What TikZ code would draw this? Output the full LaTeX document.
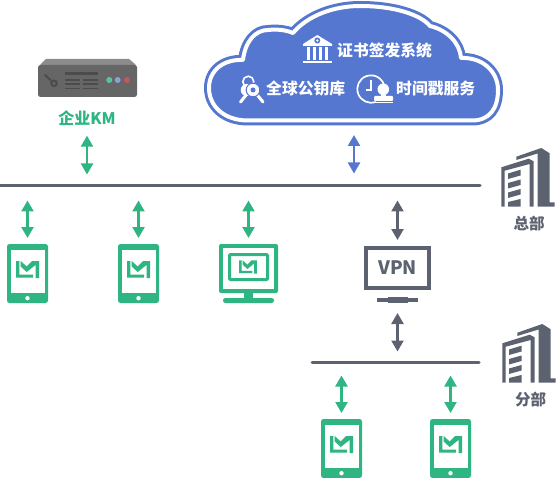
\documentclass[tikz,border=0pt]{standalone}
\usepackage{fontspec}
\newfontfamily\cjk{Noto Sans CJK SC}
\usetikzlibrary{arrows.meta}
\usepackage{xcolor}
\definecolor{colG}{RGB}{47,181,130}
\definecolor{colB}{RGB}{86,119,207}
\definecolor{colD}{RGB}{92,98,112}
\newcommand{\cloudline}{(248,120.5) .. controls (224,120.5) and (209,106) .. (209,88)
  .. controls (209,70) and (224,59) .. (243,60) .. controls (245,42) and (255,30) .. (268,30)
  .. controls (277,29) and (286,30) .. (293,33) .. controls (308,15) and (335,6) .. (360,6)
  .. controls (395,6) and (421,15) .. (430,26) .. controls (447,30) and (460,43) .. (461,58)
  .. controls (483,57) and (498,72) .. (498,90) .. controls (498,108) and (490,120.5) .. (472,120.5) -- cycle}
\tikzset{
  lmlogo/.pic={
    \fill (-11.5,-8.5) -- (-8.2,-8.5) -- (-8.2,5) -- (5.5,5) -- (5.5,8) -- (-11.5,8) -- cycle;
    \fill (-6.8,-8.5) -- (-0.8,-3) -- (4.5,-8.5) -- (11.5,-8.5) -- (11.5,8.5) -- (8,8.5) -- (8,-4.5) -- (-0.8,2.5) -- (-6.8,-3) -- cycle;
  },
  tablet/.pic={
    \fill[colG,rounded corners=2.5pt] (-20.5,-29.5) rectangle (20.5,29.5);
    \fill[white] (-17,-23.5) rectangle (17,19.5);
    \fill[white] (0,24.7) circle (2.2);
    \pic[colG] at (0,-4) {lmlogo};
  },
  hqblock/.pic={
    \fill[colD] (0.3,19.3) -- (27.7,10.7) -- (32.7,13.3) -- (32.7,58.7) -- (28.7,58.7) -- (28.7,16) -- (3.7,22.7) -- (3.7,58.7) -- (0.3,58.7) -- cycle;
    \fill[colD] (15.3,8.7) -- (40.3,0) -- (48.7,5.3) -- (48.7,54.3) -- (53.7,54.3) -- (53.7,58.7) -- (36.5,58.7) -- (36.5,5.5) -- (15.3,12) -- cycle;
    \fill[colD] (7,25.5) -- (19.5,21.7) -- (19.5,27.5) -- (7,31) -- cycle;
    \fill[colD] (7,35) -- (19.5,31.5) -- (19.5,37) -- (7,40.5) -- cycle;
    \fill[colD] (7,44.5) -- (19.5,41) -- (19.5,46.5) -- (7,50) -- cycle;
    \fill[colD] (7,54) -- (19.5,51) -- (19.5,58.7) -- (7,58.7) -- cycle;
  },
  link/.style={line width=2.3pt,{Triangle[width=12pt,length=11pt]}-{Triangle[width=12pt,length=11pt]}},
  bus/.style={colD,line width=3pt,line cap=round},
  slot/.style={minimum width=#1,inner sep=0pt,outer sep=0pt},
  whitelabel/.style={text=white,font=\cjk\bfseries\fontsize{15.8}{16}\selectfont,inner sep=0pt},
  darklabel/.style={text=colD,font=\cjk\bfseries\fontsize{15.5}{16}\selectfont,inner sep=0pt}
}
\begin{document}
\begin{tikzpicture}[x=1pt,y=-1pt]
\useasboundingbox (0,0) rectangle (556,478);
% cloud
\fill[colB,draw=colB,line width=10pt,line join=round] \cloudline;
\draw[white,line width=4pt,line join=round] \cloudline;
\node[slot=298pt,minimum height=124pt] (cloud) at (354,63) {};
\node[whitelabel,anchor=west] (cert) at (337,50) {证书签发系统};
\node[whitelabel,anchor=west] (pubkey) at (266,89) {全球公钥库};
\node[whitelabel,anchor=west] (stamp) at (396,89) {时间戳服务};
% bank
\fill[white] (317.3,35) -- (332,44) -- (332,46) -- (303,46) -- (303,44) -- cycle;
\fill[colB] (317.3,40.5) circle (3);
\fill[white] (317.3,40.5) circle (1.3);
\fill[white] (307,47.5) rectangle (310,60);
\fill[white] (313,47.5) rectangle (316,60);
\fill[white] (319,47.5) rectangle (322,60);
\fill[white] (325,47.5) rectangle (328,60);
\fill[white] (303,61) rectangle (332,63);
% keys
\draw[white,line width=1.6pt] (248.3,81.7) circle (5.5);
\draw[white,line width=3pt,line cap=round] (245.7,95.5) -- (240.5,102);
\draw[white,line width=3pt,line cap=round] (257.3,95) -- (263,102);
\fill[white] (246.7,90) circle (6);
\fill[white,draw=colB,line width=1pt] (253,90) circle (6.8);
\fill[colB] (253,90) circle (2.5);
% clock and stamp
\draw[white,line width=1.7pt] (375.7,101.9) arc (70:345:13.7);
\draw[white,line width=1.7pt] (371.3,80) -- (371.3,90) -- (365.7,90);
\fill[white] (383.3,89.3) circle (5.8);
\fill[white] (380.5,92) rectangle (386,97);
\fill[white,rounded corners=1pt] (374,96) rectangle (393,101);
\fill[white] (374,102) rectangle (393,103.2);
% server
\fill[black!45] (41,64) -- (46,59) -- (129,59) -- (135,64) -- (137,68) -- (38,68) -- cycle;
\fill[black!60,rounded corners=2.5pt] (38,65) rectangle (137,97);
\draw[black!70,line width=2pt] (44.7,74.7) -- (51,80.5);
\draw[black!70,line width=2pt] (54,83.3) circle (2.8);
\draw[black!70,line width=3.4pt] (65,73.5) -- (98,73.5);
\draw[black!70,line width=1.7pt] (65,80) -- (80,80);
\draw[black!70,line width=1.7pt] (83.3,80) -- (98.3,80);
\draw[black!70,line width=1.7pt] (65,84.3) -- (80,84.3);
\draw[black!70,line width=1.7pt] (83.3,84.3) -- (98.3,84.3);
\draw[black!70,line width=1.7pt] (65,88.4) -- (80,88.4);
\draw[black!70,line width=1.7pt] (83.3,88.4) -- (98.3,88.4);
\fill[colG!80] (109.3,80) circle (3);
\fill[colB!70] (117.7,80) circle (3);
\fill[red!45!gray!90] (127,80) circle (3);
\node[slot=99pt,minimum height=38pt] (server) at (87.5,78) {};
\node[text=colG,font=\cjk\bfseries\fontsize{16}{16}\selectfont,inner sep=0pt] (km) at (87,118) {企业KM};
% main line
\coordinate (hqL) at (0,185.5);
\coordinate (hqR) at (480,185.5);
\draw[bus] (hqL) -- (hqR);
\coordinate (brL) at (312,362.5);
\coordinate (brR) at (479,362.5);
\draw[bus] (brL) -- (brR);
% devices
\node[slot=41pt,minimum height=59pt] (tabA) at (27.5,273.5) {};
\node[slot=41pt,minimum height=59pt] (tabB) at (138.5,273.5) {};
\node[slot=41pt,minimum height=59pt] (tabC) at (341.5,448.5) {};
\node[slot=41pt,minimum height=59pt] (tabD) at (450.5,448.5) {};
\pic at (tabA) {tablet};
\pic at (tabB) {tablet};
\pic at (tabC) {tablet};
\pic at (tabD) {tablet};
% monitor
\node[slot=59pt,minimum height=59pt] (screen) at (248.5,273.5) {};
\fill[colG,rounded corners=2pt] (219,244) rectangle (278,293);
\fill[white] (223,248) rectangle (274,289);
\draw[colG,line width=3pt,rounded corners=1pt] (229.5,254.5) rectangle (267.5,279.5);
\fill[colG] (244,293) rectangle (253,298);
\fill[colG,rounded corners=2.4pt] (223,298) rectangle (274,303);
\pic[colG,scale=.78] at (248,267) {lmlogo};
% vpn
\node[draw=colD,line width=4pt,minimum width=63pt,minimum height=40pt,inner sep=0pt,text=colD,font=\cjk\bfseries\fontsize{18.5}{18}\selectfont] (vpn) at (397.5,268) {VPN};
\fill[colD] (377,298) rectangle (418,302);
\fill[colD] (388,297) rectangle (408,303);
\coordinate (vpnfoot) at (397.5,303);
% links
\draw[link,colG,shorten <=10pt,shorten >=11pt] (km.south) -- (km.south |- hqL);
\draw[link,colB,shorten <=10pt,shorten >=12pt] (cloud.south) -- (cloud.south |- hqL);
\draw[link,colG,shorten <=6pt,shorten >=15pt] (tabA.north) -- (tabA.north |- hqL);
\draw[link,colG,shorten <=6pt,shorten >=15pt] (tabB.north) -- (tabB.north |- hqL);
\draw[link,colG,shorten <=6pt,shorten >=15pt] (screen.north) -- (screen.north |- hqL);
\draw[link,colD,shorten <=6pt,shorten >=15pt] (vpn.north) -- (vpn.north |- hqL);
\draw[link,colD,shorten <=10pt,shorten >=11pt] (vpnfoot) -- (vpnfoot |- brL);
\draw[link,colG,shorten <=6pt,shorten >=13pt] (tabC.north) -- (tabC.north |- brL);
\draw[link,colG,shorten <=6pt,shorten >=13pt] (tabD.north) -- (tabD.north |- brL);
% buildings
\pic at (501,148) {hqblock};
\pic at (502,324) {hqblock};
\node[darklabel] (hq) at (529,224) {总部};
\node[darklabel] (branch) at (530.5,400) {分部};
\end{tikzpicture}
\end{document}
